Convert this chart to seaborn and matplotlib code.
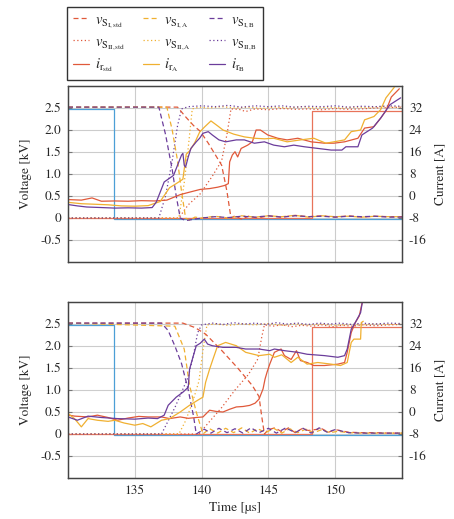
import matplotlib
matplotlib.use("Agg")
import matplotlib.pyplot as plt
import seaborn as sns

# ---------------- data ----------------
# gate signal and reference step (kV), identical in both cases
gate_t = [130.0, 133.45, 133.45, 155.0]
gate_v = [2.48, 2.48, -0.03, -0.03]
step_t = [130.0, 148.3, 148.3, 155.0]
step_v = [0.0, 0.0, 2.44, 2.44]

# ---- case 1 (upper panel) ----
# switch-node voltages, upper switch (kV)
c1_vI_std_t = [130, 138.2, 138.8, 139.4, 139.9, 140.5, 141.0, 141.5, 141.9, 142.2, 142.5, 143.0, 143.5, 144.2, 145.0, 146.0, 147.0, 148.0, 149.0, 150.0, 151.0, 152.0, 153.0, 154.0, 155.0]
c1_vI_std = [2.52, 2.52, 2.3, 2.1, 1.97, 1.7, 1.45, 1.2, 0.6, 0.0, 0.05, -0.03, 0.04, 0.0, 0.05, 0.02, 0.06, 0.03, 0.05, 0.02, 0.05, 0.02, 0.04, 0.03, 0.03]
c1_vI_A_t = [130, 137.4, 137.8, 138.2, 138.5, 138.8, 139.1, 139.5, 140.0, 141, 142, 143, 144, 145, 146, 147, 148, 149, 150, 151, 152, 153, 154, 155]
c1_vI_A = [2.52, 2.52, 2.0, 1.3, 0.6, 0.0, -0.05, 0.02, 0.0, 0.04, 0.0, 0.05, 0.02, 0.05, 0.03, 0.06, 0.02, 0.05, 0.03, 0.04, 0.02, 0.04, 0.03, 0.03]
c1_vI_B_t = [130, 136.8, 137.3, 137.8, 138.1, 138.4, 138.8, 139.2, 140.0, 141, 142, 143, 144, 145, 146, 147, 148, 149, 150, 151, 152, 153, 154, 155]
c1_vI_B = [2.52, 2.52, 1.9, 1.1, 0.5, 0.0, -0.06, -0.04, 0.0, 0.03, 0.01, 0.04, 0.02, 0.05, 0.02, 0.05, 0.03, 0.04, 0.02, 0.04, 0.03, 0.04, 0.02, 0.02]
# switch-node voltages, lower switch (kV)
c1_vII_std_t = [130, 138.3, 139.0, 139.9, 140.8, 141.5, 141.9, 142.2, 142.8, 143.3, 144, 145, 146, 147, 148, 149, 150, 151, 152, 153, 154, 155]
c1_vII_std = [0.0, 0.0, 0.3, 0.55, 0.95, 1.3, 1.9, 2.48, 2.47, 2.42, 2.48, 2.46, 2.49, 2.47, 2.48, 2.46, 2.49, 2.47, 2.48, 2.5, 2.51, 2.52]
c1_vII_A_t = [130, 138.3, 138.7, 139.0, 139.3, 139.8, 140.5, 141.5, 142.5, 143.5, 144.5, 145.5, 146.5, 147.5, 148.5, 149.5, 150.5, 151.5, 152.5, 153.5, 154.5, 155]
c1_vII_A = [0.0, 0.0, 0.8, 1.6, 2.48, 2.52, 2.5, 2.53, 2.5, 2.52, 2.49, 2.52, 2.5, 2.53, 2.5, 2.52, 2.5, 2.52, 2.51, 2.53, 2.52, 2.53]
c1_vII_B_t = [130, 136.8, 137.3, 137.8, 138.2, 138.5, 139.0, 140.0, 141.0, 142.0, 143.0, 144.0, 145.0, 146.0, 147.0, 148.0, 149.0, 150.0, 151.0, 152.0, 153.0, 154.0, 155.0]
c1_vII_B = [0.0, 0.0, 0.5, 1.3, 2.1, 2.48, 2.53, 2.55, 2.53, 2.56, 2.52, 2.55, 2.53, 2.55, 2.52, 2.54, 2.53, 2.55, 2.52, 2.54, 2.53, 2.55, 2.54]
# rotor currents (A)
c1_i_std_t = [130, 131.0, 131.8, 132.5, 133.5, 134.5, 135.5, 136.5, 137.4, 138.4, 139.1, 139.9, 140.6, 141.2, 141.7, 142.0, 142.1, 142.3, 142.5, 142.7, 142.96, 143.45, 143.8, 144.08, 144.4, 144.95, 145.7, 146.4, 147.2, 148.2, 149.2, 149.9, 150.7, 151.7, 152.2, 152.9, 153.4, 153.8, 154.2, 154.8]
c1_i_std = [-1.3, -1.5, -0.7, -1.9, -1.8, -1.9, -1.7, -1.8, -1.5, 0.5, 1.4, 2.4, 2.7, 3.2, 3.8, 4.5, 12.4, 14.9, 16.1, 14.2, 17.3, 18.5, 19.7, 24.0, 24.0, 22.2, 21.0, 20.4, 21.0, 19.7, 19.2, 19.2, 19.7, 21.0, 24.7, 25.2, 28.3, 31.0, 36.0, 39.0]
c1_i_A_t = [130, 131, 132, 133, 134, 135, 136, 136.9, 137.6, 138.1, 138.6, 138.85, 139.1, 139.5, 139.85, 140.2, 140.7, 141.2, 141.6, 142.4, 143.2, 143.95, 144.7, 145.4, 146.4, 147.4, 148.4, 149.3, 149.9, 150.7, 151.2, 151.9, 152.2, 152.9, 153.4, 153.8, 154.4, 154.6]
c1_i_A = [-2.3, -2.8, -3.0, -3.2, -3.6, -3.7, -3.5, -2.0, 3.0, 4.5, 6.1, 15.2, 16.4, 19.5, 23.2, 25.0, 27.3, 25.5, 24.0, 22.5, 21.5, 21.0, 20.8, 21.0, 19.7, 20.4, 21.0, 19.2, 19.7, 20.4, 23.4, 24.0, 27.7, 28.9, 31.4, 35.7, 39.4, 41.0]
c1_i_B_t = [130, 130.7, 131.4, 132.5, 133.5, 134.5, 135.5, 136.3, 136.6, 136.9, 137.2, 137.9, 138.2, 138.5, 138.6, 138.7, 138.8, 139.0, 139.2, 139.6, 139.85, 140.1, 140.5, 140.8, 141.3, 141.8, 142.6, 143.2, 143.95, 144.7, 145.4, 146.2, 146.9, 147.7, 148.7, 149.7, 150.5, 150.8, 151.7, 152.0, 152.8, 153.4, 154.1, 154.9]
c1_i_B = [-3.1, -3.6, -4.0, -4.2, -4.4, -4.3, -4.4, -4.2, -2.3, 1.4, 5.1, 7.5, 11.2, 14.9, 15.5, 11.2, 10.5, 14.2, 17.3, 19.7, 21.0, 22.8, 23.4, 22.2, 20.4, 19.7, 20.4, 20.4, 19.2, 19.7, 18.5, 17.9, 18.5, 17.9, 17.3, 16.7, 16.7, 17.9, 17.9, 22.2, 24.7, 28.3, 33.2, 35.7]

# ---- case 2 (lower panel) ----
c2_vI_std_t = [130, 138.6, 139.5, 140.3, 141.5, 142.7, 143.8, 144.3, 144.5, 144.7, 145.0, 145.5, 146.0, 146.5, 147.0, 147.5, 148.0, 148.5, 149.0, 149.5, 150.0, 151.0, 152.0, 153.0, 154.0, 155.0]
c2_vI_std = [2.52, 2.52, 2.42, 2.27, 1.9, 1.5, 1.1, 0.85, 0.4, 0.0, 0.1, 0.14, 0.05, 0.14, 0.03, 0.12, 0.08, 0.1, 0.12, 0.04, 0.1, 0.04, 0.03, 0.03, 0.02, 0.02]
c2_vI_A_t = [130, 138.0, 138.7, 139.1, 139.6, 140.1, 140.6, 141.2, 141.8, 142.4, 143.0, 143.6, 144.2, 144.8, 145.4, 146.0, 146.6, 147.2, 147.8, 148.4, 149.0, 149.6, 150.2, 151.0, 152.0, 153.0, 155.0]
c2_vI_A = [2.52, 2.45, 1.93, 1.1, 0.5, 0.0, 0.12, 0.02, 0.13, 0.03, 0.14, 0.02, 0.12, 0.03, 0.13, 0.02, 0.12, 0.03, 0.11, 0.03, 0.1, 0.03, 0.06, 0.03, 0.02, 0.02, 0.02]
c2_vI_B_t = [130, 137.0, 137.5, 138.0, 138.5, 139.0, 139.4, 139.6, 140.2, 140.7, 141.3, 141.9, 142.5, 143.1, 143.7, 144.3, 145.0, 145.6, 146.3, 147.0, 147.6, 148.2, 148.8, 149.4, 150.0, 151.0, 152.0, 155.0]
c2_vI_B = [2.52, 2.52, 2.35, 2.0, 1.6, 1.0, 0.4, 0.0, 0.11, 0.02, 0.13, 0.03, 0.12, 0.02, 0.14, 0.03, 0.13, 0.02, 0.14, 0.03, 0.13, 0.02, 0.14, 0.04, 0.1, 0.03, 0.02, 0.02]
c2_vII_std_t = [130, 139.8, 140.5, 141.5, 142.5, 143.5, 144.2, 144.5, 144.7, 145.3, 146.0, 146.8, 147.5, 148.3, 149.0, 149.8, 150.5, 151.3, 152.0, 153.0, 154.0, 155.0]
c2_vII_std = [0.0, 0.0, 0.25, 0.6, 1.0, 1.35, 1.7, 2.2, 2.48, 2.45, 2.48, 2.44, 2.47, 2.45, 2.48, 2.44, 2.47, 2.45, 2.48, 2.46, 2.48, 2.49]
c2_vII_A_t = [130, 138.3, 138.8, 139.3, 139.8, 140.1, 140.4, 141.0, 142.0, 143.0, 144.0, 145.0, 146.0, 147.0, 148.0, 149.0, 150.0, 151.0, 152.0, 153.0, 154.0, 155.0]
c2_vII_A = [0.0, 0.0, 0.3, 0.7, 1.2, 1.9, 2.48, 2.5, 2.47, 2.5, 2.48, 2.51, 2.47, 2.5, 2.48, 2.5, 2.47, 2.49, 2.48, 2.5, 2.49, 2.5]
c2_vII_B_t = [130, 137.0, 137.5, 138.0, 138.5, 139.0, 139.4, 139.7, 140.0, 140.8, 141.6, 142.4, 143.2, 144.0, 144.8, 145.6, 146.4, 147.2, 148.0, 148.8, 149.6, 150.4, 151.2, 152.0, 153.0, 154.0, 155.0]
c2_vII_B = [0.0, 0.0, 0.3, 0.6, 0.95, 1.3, 1.8, 2.3, 2.48, 2.52, 2.49, 2.53, 2.5, 2.52, 2.49, 2.53, 2.5, 2.52, 2.49, 2.52, 2.5, 2.52, 2.49, 2.52, 2.5, 2.52, 2.51]
c2_i_std_t = [130, 130.5, 131.5, 132.2, 133.0, 133.7, 134.5, 135.3, 136.0, 137.0, 137.6, 138.4, 139.0, 139.6, 140.1, 140.6, 141.1, 141.6, 142.1, 142.6, 143.1, 143.6, 144.0, 144.3, 144.6, 144.75, 144.9, 145.1, 145.45, 145.95, 146.2, 146.7, 147.1, 147.4, 147.9, 148.4, 149.2, 150.2, 150.7, 150.9, 151.2, 151.5, 151.8, 152.05]
c2_i_std = [-1.1, -1.5, -1.8, -1.15, -2.0, -3.0, -2.2, -1.6, -1.8, -1.8, -2.4, -1.8, -2.3, -2.0, -1.8, 0.65, 0.2, 0.0, 1.0, 1.84, 2.0, 2.4, 3.2, 4.7, 8.4, 12.0, 14.5, 17.4, 21.7, 22.9, 20.5, 19.1, 22.3, 18.7, 18.0, 16.9, 16.9, 17.4, 18.0, 21.7, 28.9, 32.5, 34.9, 40.5]
c2_i_A_t = [130, 130.5, 131.0, 131.5, 132.2, 133.0, 133.5, 134.2, 135.0, 135.6, 136.2, 137.0, 137.6, 138.4, 139.1, 139.85, 140.1, 140.3, 140.6, 140.85, 141.2, 141.8, 142.6, 143.3, 144.3, 145.1, 145.45, 146.0, 146.7, 147.2, 147.9, 148.7, 149.7, 150.4, 150.9, 151.2, 151.4, 151.9, 151.95, 152.1]
c2_i_A = [-0.5, -2.5, -5.4, -2.4, -3.0, -3.4, -3.0, -4.0, -4.8, -4.2, -5.4, -3.0, -2.4, 0.0, 2.45, 4.7, 5.4, 10.8, 15.6, 19.2, 24.1, 25.3, 24.1, 21.7, 20.5, 21.0, 19.9, 20.8, 18.0, 19.9, 17.4, 18.0, 17.4, 16.9, 18.0, 25.3, 26.5, 26.5, 32.5, 33.0]
c2_i_B_t = [130, 130.7, 131.5, 132.5, 133.7, 135.0, 136.0, 136.7, 137.2, 137.5, 138.1, 138.6, 139.0, 139.1, 139.35, 139.6, 139.9, 140.2, 140.45, 140.8, 141.6, 142.6, 143.3, 144.3, 145.1, 145.45, 146.2, 147.2, 147.9, 149.2, 150.2, 150.7, 150.9, 151.2, 151.5, 151.9, 152.05]
c2_i_B = [-1.8, -3.0, -1.5, -2.0, -2.4, -2.6, -2.2, -2.4, -1.15, 2.45, 5.4, 7.2, 9.0, 15.6, 19.9, 24.1, 25.0, 26.5, 24.7, 24.1, 23.5, 23.5, 22.9, 22.9, 22.3, 22.9, 22.3, 21.7, 21.0, 20.5, 19.9, 20.5, 22.9, 30.1, 32.5, 36.1, 40.5]

x_ticks = [135, 140, 145, 150]
v_ticks = [-0.5, 0, 0.5, 1.0, 1.5, 2.0, 2.5]
v_ticklabels = ["-0.5", "0", "0.5", "1.0", "1.5", "2.0", "2.5"]
i_ticks = [-16, -8, 0, 8, 16, 24, 32]
i_ticklabels = ["-16", "-8", "0", "8", "16", "24", "32"]

legend_labels = [
    r"$v_{\mathrm{S}_{\mathrm{I,std}}}$", r"$v_{\mathrm{S}_{\mathrm{II,std}}}$", r"$i_{\mathrm{r}_{\mathrm{std}}}$",
    r"$v_{\mathrm{S}_{\mathrm{I,A}}}$", r"$v_{\mathrm{S}_{\mathrm{II,A}}}$", r"$i_{\mathrm{r}_{\mathrm{A}}}$",
    r"$v_{\mathrm{S}_{\mathrm{I,B}}}$", r"$v_{\mathrm{S}_{\mathrm{II,B}}}$", r"$i_{\mathrm{r}_{\mathrm{B}}}$",
]

# ---------------- style ----------------
sns.set_style("white")
plt.rcParams["font.family"] = ["STIXGeneral", "DejaVu Serif"]
plt.rcParams["mathtext.fontset"] = "stix"
plt.rcParams["font.size"] = 9.5

col_std = "#e0593a"
col_A = "#f0b030"
col_B = "#6b3d9b"
col_gate = "#4c9fd6"
col_step = "#e8735a"
DASH = (0, (4.0, 2.5))
DOT = (0, (1.0, 2.0))
LW = 0.9

fig = plt.figure(figsize=(4.54, 5.19), dpi=100)
ax_top = fig.add_axes([68 / 454, 1 - 262 / 519, 334 / 454, 176 / 519])
ax_bot = fig.add_axes([68 / 454, 1 - 478 / 519, 334 / 454, 176 / 519])


def trace(ax, t, y, color, ls, label=None, z=2):
    sns.lineplot(x=t, y=y, ax=ax, color=color, linestyle=ls, linewidth=LW,
                 estimator=None, sort=False, label=label, zorder=z)


cases = [
    (ax_top, dict(vI_std=(c1_vI_std_t, c1_vI_std), vI_A=(c1_vI_A_t, c1_vI_A), vI_B=(c1_vI_B_t, c1_vI_B),
                  vII_std=(c1_vII_std_t, c1_vII_std), vII_A=(c1_vII_A_t, c1_vII_A), vII_B=(c1_vII_B_t, c1_vII_B),
                  i_std=(c1_i_std_t, c1_i_std), i_A=(c1_i_A_t, c1_i_A), i_B=(c1_i_B_t, c1_i_B))),
    (ax_bot, dict(vI_std=(c2_vI_std_t, c2_vI_std), vI_A=(c2_vI_A_t, c2_vI_A), vI_B=(c2_vI_B_t, c2_vI_B),
                  vII_std=(c2_vII_std_t, c2_vII_std), vII_A=(c2_vII_A_t, c2_vII_A), vII_B=(c2_vII_B_t, c2_vII_B),
                  i_std=(c2_i_std_t, c2_i_std), i_A=(c2_i_A_t, c2_i_A), i_B=(c2_i_B_t, c2_i_B))),
]

legend_handles = None
for k, (ax, d) in enumerate(cases):
    ax2 = ax.twinx()
    lab = (lambda i: legend_labels[i]) if k == 0 else (lambda i: None)

    trace(ax, gate_t, gate_v, col_gate, "-")
    trace(ax, step_t, step_v, col_step, "-")
    # voltages on the left axis
    trace(ax, *d["vII_std"], col_std, DOT, lab(1))
    trace(ax, *d["vII_A"], col_A, DOT, lab(4))
    trace(ax, *d["vII_B"], col_B, DOT, lab(7))
    trace(ax, *d["vI_std"], col_std, DASH, lab(0))
    trace(ax, *d["vI_A"], col_A, DASH, lab(3))
    trace(ax, *d["vI_B"], col_B, DASH, lab(6))
    # currents on the right axis
    trace(ax2, *d["i_std"], col_std, "-", lab(2))
    trace(ax2, *d["i_A"], col_A, "-", lab(5))
    trace(ax2, *d["i_B"], col_B, "-", lab(8))

    if k == 0:
        h1, l1 = ax.get_legend_handles_labels()
        h2, l2 = ax2.get_legend_handles_labels()
        hmap = dict(zip(l1 + l2, h1 + h2))
        legend_handles = [hmap[l] for l in legend_labels]

    for a in (ax, ax2):
        if a.get_legend() is not None:
            a.get_legend().remove()

    ax.set_xlim(130, 155)
    ax.set_ylim(-1.0, 3.0)
    ax2.set_ylim(-24, 40)
    ax.set_xticks(x_ticks)
    ax.set_yticks(v_ticks)
    ax.set_yticklabels(v_ticklabels)
    ax2.set_yticks(i_ticks)
    ax2.set_yticklabels(i_ticklabels)
    ax.grid(True, color="#cccccc", linewidth=0.8)
    ax.set_axisbelow(True)
    ax.set_ylabel("Voltage [kV]", labelpad=6)
    ax2.set_ylabel("Current [A]", labelpad=6)
    ax.tick_params(direction="in", length=3, color="#777777", pad=5)
    ax2.tick_params(direction="in", length=3, color="#777777", pad=5)
    for a in (ax, ax2):
        for s in a.spines.values():
            s.set_color("#444444")
            s.set_linewidth(0.9)
    if k == 0:
        ax.set_xticklabels([])
        ax.set_xlabel("")
    else:
        ax.set_xlabel("Time [µs]", labelpad=4)

fig.legend(legend_handles, legend_labels, ncol=3, loc="upper left",
           bbox_to_anchor=(67 / 454, 1 - 7 / 519), frameon=True, fancybox=False,
           edgecolor="#333333", framealpha=1, fontsize=10.5, handlelength=1.1,
           handletextpad=0.4, columnspacing=1.2, labelspacing=0.35,
           borderpad=0.4, borderaxespad=0.0)

fig.savefig("out.png", dpi=100)
